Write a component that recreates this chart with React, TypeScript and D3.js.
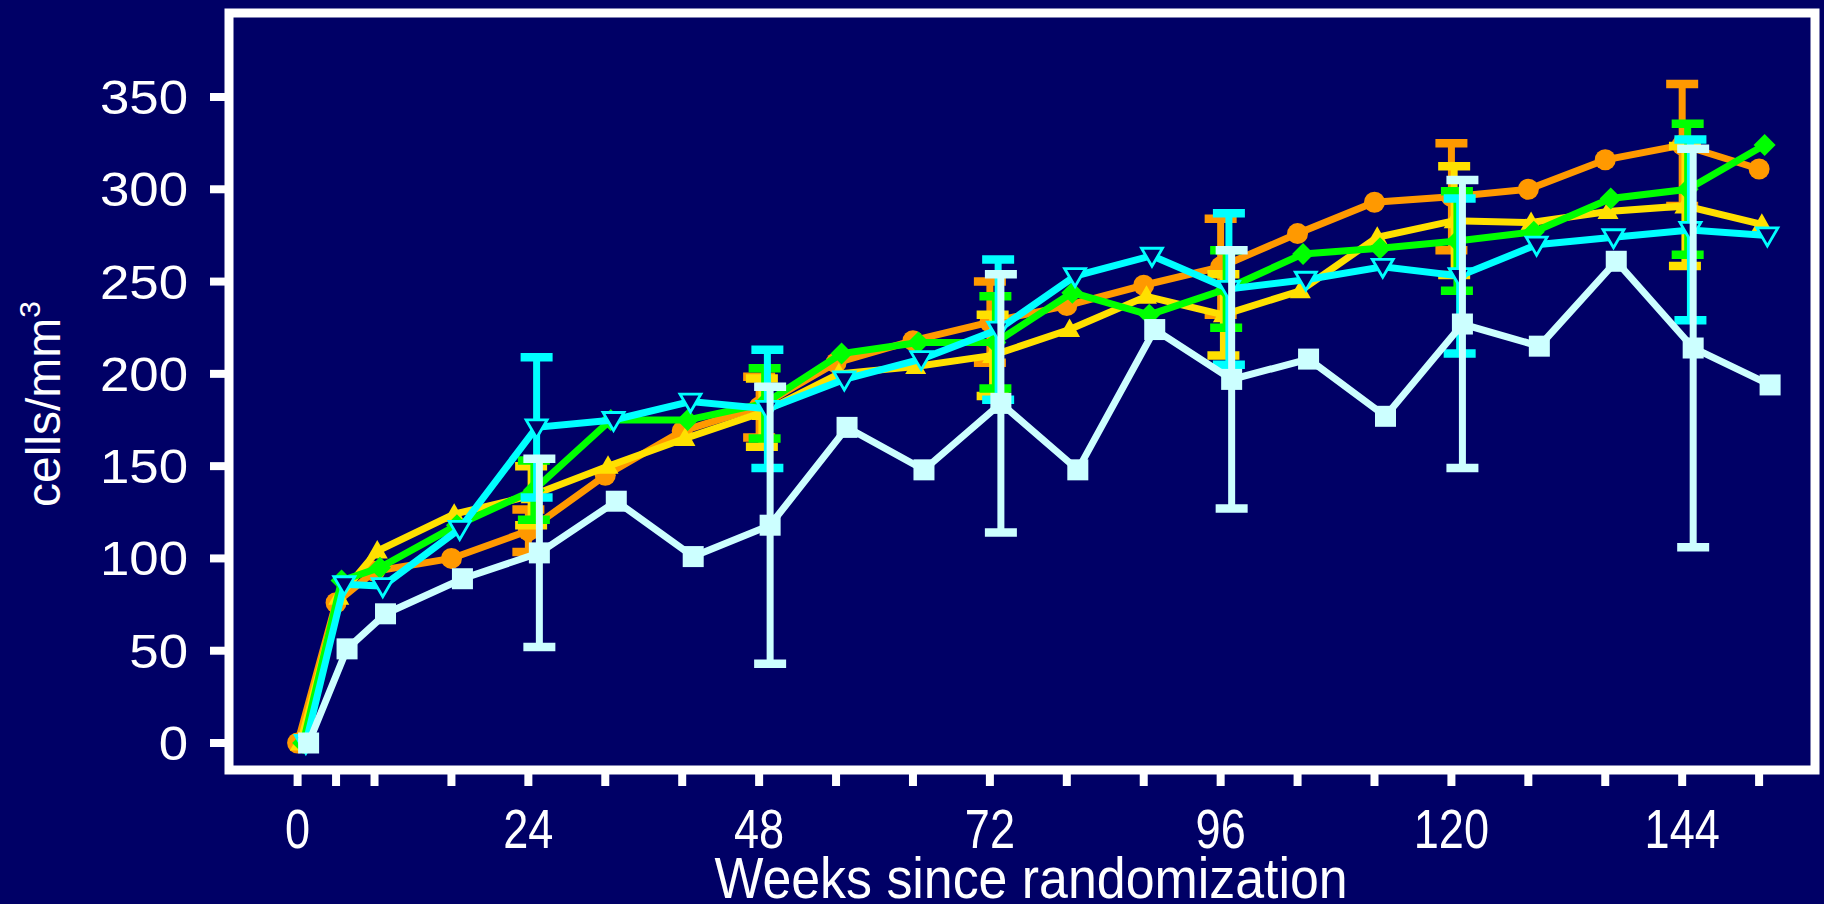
import React from 'react';
import * as d3 from 'd3';

const weeks = [0, 4, 8, 16, 24, 32, 40, 48, 56, 64, 72, 80, 88, 96, 104, 112, 120, 128, 136, 144, 152];
const xTickWeeks = [0, 4, 8, 16, 24, 32, 40, 48, 56, 64, 72, 80, 88, 96, 104, 112, 120, 128, 136, 144, 152];
const xLabelWeeks = [0, 24, 48, 72, 96, 120, 144];
const yTicks = [0, 50, 100, 150, 200, 250, 300, 350];
const errorWeeks = [24, 48, 72, 96, 120, 144];

const orangeValues = [0, 76, 93, 100, 115, 145, 169, 182, 206, 218, 228, 237, 248, 258, 276, 293, 296, 300, 316, 324, 311];
const yellowValues = [0, 79, 104, 124, 134, 150, 165, 179, 200, 204, 210, 224, 242, 232, 245, 274, 283, 282, 288, 291, 281];
const greenValues = [0, 88, 95, 118, 137, 175, 175, 184, 211, 217, 217, 244, 232, 246, 265, 268, 272, 277, 295, 300, 324];
const cyanValues = [0, 86, 85, 116, 171, 175, 185, 181, 197, 208, 224, 253, 264, 246, 251, 258, 253, 270, 274, 278, 275];
const whiteValues = [0, 51, 70, 89, 103, 131, 101, 118, 171, 148, 184, 148, 224, 197, 208, 177, 227, 215, 261, 214, 194];

const orangeErrors = [11.5, 16.5, 22, 26, 29, 33];
const yellowErrors = [16, 18.5, 22, 22, 29.5, 32.5];
const greenErrors = [16, 19, 25, 21, 27, 35.5];
const cyanErrors = [38, 32, 38, 41, 42, 49];
const whiteErrors = [51, 75, 70, 70, 78, 108];

const BG = '#000066';

const series = [
  { key: 'orange', color: '#FF9900', marker: 'circle', values: orangeValues, errors: orangeErrors },
  { key: 'yellow', color: '#FFE000', marker: 'triUp', values: yellowValues, errors: yellowErrors },
  { key: 'green', color: '#00FF00', marker: 'diamond', values: greenValues, errors: greenErrors },
  { key: 'cyan', color: '#00FFFF', marker: 'triDown', values: cyanValues, errors: cyanErrors },
  { key: 'white', color: '#CCFFFF', marker: 'square', values: whiteValues, errors: whiteErrors },
];

const W = 1824;
const H = 904;

const x = d3.scaleLinear().domain([0, 152]).range([297.6, 1759.1]);
const y = d3.scaleLinear().domain([0, 350]).range([743, 97]);

const DODGE = 2.75;

function Marker({ type, color, cx, cy }: { type: string; color: string; cx: number; cy: number }) {
  const t = `translate(${cx},${cy})`;
  if (type === 'circle') return <circle cx={cx} cy={cy} r={10.5} fill={color} />;
  if (type === 'triUp') return <path transform={t} d="M0,-11 L10.5,7.5 L-10.5,7.5 Z" fill={color} />;
  if (type === 'diamond') return <path transform={t} d="M0,-11 L11,0 L0,11 L-11,0 Z" fill={color} />;
  if (type === 'triDown')
    return <path transform={t} d="M-10.5,-7.5 L10.5,-7.5 L0,10.5 Z" fill={BG} stroke={color} strokeWidth={2.8} strokeLinejoin="miter" />;
  return <rect x={cx - 10.5} y={cy - 10.5} width={21} height={21} fill={color} />;
}

export default function App() {
  const line = d3
    .line<[number, number]>()
    .x((d) => d[0])
    .y((d) => d[1]);

  const font = '"Liberation Sans", Arial, Helvetica, sans-serif';

  return (
    <svg
      width={W}
      height={H}
      viewBox={`0 0 ${W} ${H}`}
      style={{ position: 'absolute', left: 0, top: 0, display: 'block' }}
    >
      <rect x={0} y={0} width={W} height={H} fill={BG} />

      {series.map((s, si) => {
        const off = si * DODGE;
        const pts: [number, number][] = weeks.map((w, i) => [x(w) + off, y(s.values[i])]);
        return (
          <g key={s.key}>
            {errorWeeks.map((w, j) => {
              const i = weeks.indexOf(w);
              const v = s.values[i];
              const e = s.errors[j];
              const cx = x(w) + off;
              const yt = y(v + e);
              const yb = y(v - e);
              return (
                <g key={w}>
                  <line x1={cx} x2={cx} y1={yt} y2={yb} stroke={s.color} strokeWidth={7} />
                  <line x1={cx - 16} x2={cx + 16} y1={yt} y2={yt} stroke={s.color} strokeWidth={8.5} />
                  <line x1={cx - 16} x2={cx + 16} y1={yb} y2={yb} stroke={s.color} strokeWidth={8.5} />
                </g>
              );
            })}
            <path d={line(pts) || ''} fill="none" stroke={s.color} strokeWidth={7} strokeLinejoin="miter" strokeMiterlimit={3} />
            {pts.map((p, i) => (
              <Marker key={i} type={s.marker} color={s.color} cx={p[0]} cy={p[1]} />
            ))}
          </g>
        );
      })}

      {/* frame */}
      <rect x={229} y={13} width={1586} height={757} fill="none" stroke="#FFFFFF" strokeWidth={9} />

      {/* y ticks */}
      {yTicks.map((t) => (
        <g key={t}>
          <line x1={210} x2={226} y1={y(t)} y2={y(t)} stroke="#FFFFFF" strokeWidth={8} />
          <text
            transform={`translate(188,${y(t) + 17}) scale(1.1,1)`}
            textAnchor="end"
            fontFamily={font}
            fontSize={48}
            fill="#FFFFFF"
          >
            {t}
          </text>
        </g>
      ))}

      {/* x ticks */}
      {xTickWeeks.map((w) => (
        <line key={w} x1={x(w)} x2={x(w)} y1={772} y2={786} stroke="#FFFFFF" strokeWidth={8} />
      ))}
      {xLabelWeeks.map((w) => (
        <text
          key={w}
          transform={`translate(${x(w)},848) scale(0.82,1)`}
          textAnchor="middle"
          fontFamily={font}
          fontSize={55}
          fill="#FFFFFF"
        >
          {w}
        </text>
      ))}

      <text
        transform="translate(1031,898) scale(0.91,1)"
        textAnchor="middle"
        fontFamily={font}
        fontSize={57}
        fill="#FFFFFF"
      >
        Weeks since randomization
      </text>

      <text
        transform="translate(60,404) rotate(-90)"
        textAnchor="middle"
        fontFamily={font}
        fontSize={48}
        fill="#FFFFFF"
      >
        cells/mm
        <tspan fontSize={30} dy={-20}>
          3
        </tspan>
      </text>
    </svg>
  );
}
